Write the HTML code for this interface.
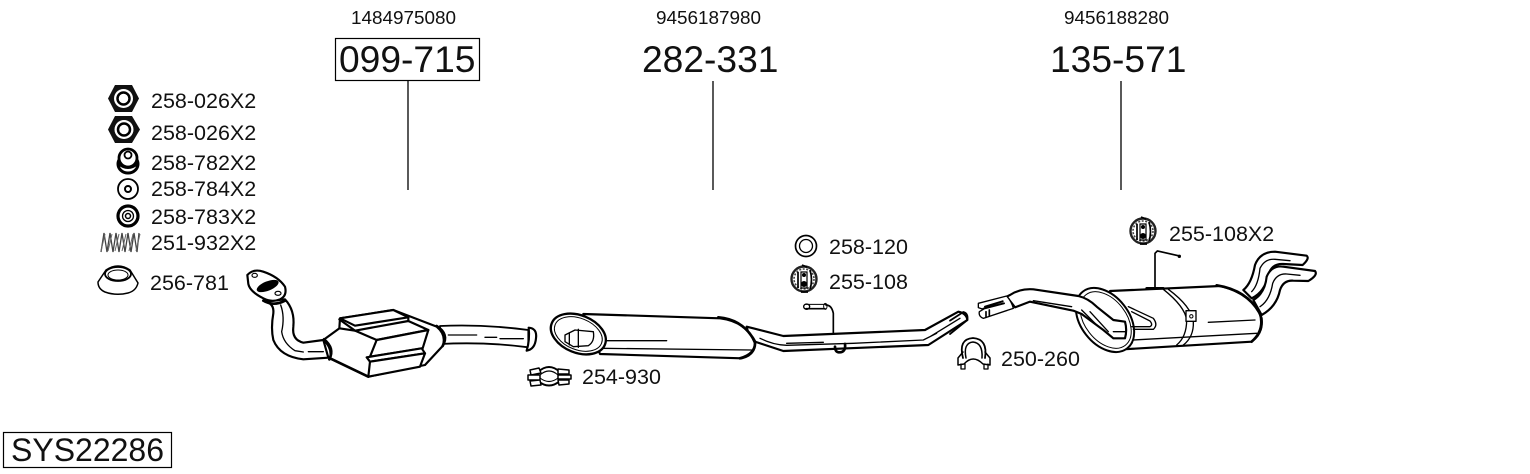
<!DOCTYPE html>
<html><head><meta charset="utf-8"><style>
html,body{margin:0;padding:0;background:#fff;width:1530px;height:474px;overflow:hidden}
svg{display:block}
text{font-family:"Liberation Sans",sans-serif;fill:#111}
.l{font-size:21.5px}.t{font-size:18.9px}.b{font-size:37.2px}
.d{filter:blur(.3px)}
.g{fill:none;stroke:#000;stroke-width:6.5;stroke-linejoin:round;stroke-linecap:round}
.w{fill:#fff}.k{fill:#000;stroke:none}.n{stroke-width:4}
</style></head><body>
<svg width="1530" height="474" viewBox="0 0 1530 474" xmlns="http://www.w3.org/2000/svg">
<rect x="335.500" y="38.500" width="144" height="42" fill="none" stroke="#000" stroke-width="1.200"/>
<rect x="3.500" y="432.500" width="168" height="35" fill="none" stroke="#000" stroke-width="1.200"/>
<path d="M408 81V190M713 81V190M1121 81V190" stroke="#000" stroke-width="1.300" fill="none"/>
<text class="t" x="351" y="24">1484975080</text>
<text class="t" x="656" y="24">9456187980</text>
<text class="t" x="1064" y="24">9456188280</text>
<text class="b" x="339" y="72">099-715</text>
<text class="b" x="642" y="72">282-331</text>
<text class="b" x="1050" y="72">135-571</text>
<text x="11" y="461" style="font-size:32px">SYS22286</text>
<text class="l" x="151" y="108">258-026X2</text>
<text class="l" x="151" y="140">258-026X2</text>
<text class="l" x="151" y="170">258-782X2</text>
<text class="l" x="151" y="196">258-784X2</text>
<text class="l" x="151" y="224">258-783X2</text>
<text class="l" x="151" y="250">251-932X2</text>
<text class="l" x="150" y="290">256-781</text>
<text class="l" x="829" y="254">258-120</text>
<text class="l" x="829" y="289">255-108</text>
<text class="l" x="582" y="384">254-930</text>
<text class="l" x="1001" y="366">250-260</text>
<text class="l" x="1169" y="241">255-108X2</text>
<g class="d">
<!-- small parts -->
<path d="M115 85H132L139 98.500L132 112H115L108 98.500Z" fill="#111"/>
<circle cx="123.500" cy="98.500" r="9.500" fill="#fff"/><circle cx="123.500" cy="98.500" r="6" fill="none" stroke="#000" stroke-width="2.500"/>
<path d="M115 116H132L140 129.500L132 143H115L108 129.500Z" fill="#111"/>
<circle cx="124" cy="129.500" r="9.500" fill="#fff"/><circle cx="124" cy="129.500" r="6" fill="none" stroke="#000" stroke-width="2.500"/>
<ellipse cx="128" cy="164" rx="10" ry="9" fill="none" stroke="#000" stroke-width="3"/>
<circle cx="128" cy="158" r="9" fill="#fff" stroke="#000" stroke-width="2.800"/><circle cx="128" cy="155" r="3.500" fill="none" stroke="#000" stroke-width="1.800"/>
<path d="M118 164Q128 172 138 164" fill="none" stroke="#000" stroke-width="2"/>
<circle cx="128" cy="189" r="10" fill="none" stroke="#000" stroke-width="1.800"/><circle cx="128" cy="189" r="3" fill="none" stroke="#000" stroke-width="2"/>
<circle cx="128" cy="216" r="10" fill="none" stroke="#000" stroke-width="3.200"/><circle cx="128" cy="216" r="5.500" fill="none" stroke="#000" stroke-width="1.300"/><circle cx="128" cy="216" r="2.500" fill="none" stroke="#000" stroke-width="1.500"/>
<path d="M101 252L104 233L107 252L110 233L113 252L116 233L119 252L122 233L125 252L128 233L131 252L134 233L137 252L139 233" fill="none" stroke="#444" stroke-width="1.300"/>
<path d="M101 251L105 234M108 251L112 234M115 251L119 234M122 251L126 234M129 251L133 234M136 251L140 234" fill="none" stroke="#666" stroke-width="1"/>
<path d="M98 282L106 270Q118 262 130 270L138 283Q136 291 128 293Q116 296 105 292Q98 289 98 282Z" fill="none" stroke="#000" stroke-width="1.500"/>
<ellipse cx="118" cy="274" rx="13" ry="7" fill="none" stroke="#000" stroke-width="1.800"/><ellipse cx="118" cy="275" rx="10" ry="5" fill="none" stroke="#000" stroke-width="1"/>
<circle cx="806" cy="246" r="10.500" fill="none" stroke="#000" stroke-width="1.700"/><circle cx="806" cy="246" r="6.500" fill="none" stroke="#000" stroke-width="1.300"/>
<!-- hanger 255-108 -->
<g id="h"><ellipse cx="804" cy="279" rx="12.500" ry="12.500" fill="none" stroke="#222" stroke-width="2.400"/>
<ellipse cx="804" cy="279" rx="10" ry="10" fill="none" stroke="#444" stroke-width="1.600" stroke-dasharray="2 1.500"/>
<path d="M798 272V288M810 270Q813 280 810 289M802 265L807 267M801 292H808" fill="none" stroke="#000" stroke-width="1.700"/>
<path d="M801 272H807V288H801Z" fill="#fff" stroke="#000" stroke-width="1.200"/>
<circle cx="804" cy="275" r="2" fill="#000"/><circle cx="804" cy="284" r="3" fill="#000"/></g>
<use href="#h" x="339" y="-48"/>
<!-- clamp 254-930 -->
<g fill="none" stroke="#000" stroke-width="1.500" stroke-linecap="round" stroke-linejoin="round">
<path d="M538 372Q549 362 560 372M538 381Q549 390 560 381" stroke-width="2"/>
<path d="M540 375Q549 367 558 375M540 378Q549 385 558 378" stroke-width="1.100"/>
<path d="M530 370L539 368L541 373L531 375ZM528 375H540V380H528ZM530 381L540 380L541 385L531 386Z" fill="#fff"/>
<path d="M558 369L569 370V374L558 374ZM558 375H571V379H558ZM558 380L569 380V384L559 385Z" fill="#fff"/>
</g>
<!-- clamp 250-260 -->
<g fill="none" stroke="#000" stroke-width="1.500" stroke-linecap="round" stroke-linejoin="round">
<path d="M963 358Q958 339 973 338Q988 339 985 358" stroke-width="1.800"/>
<path d="M966 358Q963 343 973 342Q983 343 982 358"/>
<path d="M963 352L958 358V365L964 364Q973 354 983 364L990 365V358L985 352"/>
<path d="M961 364V369H965V364M984 364V369H988V364" stroke-width="1.300"/>
</g>
<!-- catalytic converter -->
<g transform="translate(240,260) scale(.33333)" class="g">
<path class="w" d="M600 198Q730 192 865 210L865 262Q740 245 600 252Z" style="stroke-width:5.500"/>
<path class="n" d="M625 225H710M735 232H770M780 236H850"/>
<path class="w" d="M866 203Q892 205 888 235Q885 268 860 272Q870 240 866 203Z"/>
<path class="w" d="M75 125Q103 130 100 160Q92 205 100 240Q120 290 190 298L265 293L250 240L190 248Q155 240 160 200Q165 150 135 118Z"/>
<path class="n" d="M122 135Q135 170 125 215Q130 250 165 272L190 276M205 275H250"/>
<path class="w" d="M250 240L298 205L300 175L460 150L590 200Q620 225 608 258L555 315L385 350L270 295Q278 265 250 240Z"/>
<path class="w" d="M300 175L460 150L505 172L345 197Z"/>
<path class="w" d="M345 212L505 183L565 210L410 240Z"/>
<path class="w" d="M410 240L565 210L548 265L390 290Z"/>
<path class="w" d="M380 292L545 265L555 280L390 305Z"/>
<path class="w" d="M390 305L555 280L540 320L385 350Z"/>
<path d="M298 178L345 212M505 172L505 183M298 205L345 212"/>
<path d="M385 350L270 295" stroke-width="8"/>
<path d="M590 198Q628 222 608 258" stroke-width="8"/>
<path d="M252 238Q285 265 268 298" stroke-width="8"/>
<path class="w" d="M22 45Q40 25 70 35Q115 50 135 80Q142 108 120 118Q95 128 70 115Q30 95 25 72Z"/>
<ellipse class="k" cx="83" cy="78" rx="35" ry="14" transform="rotate(-22 83 78)"/>
<ellipse cx="44" cy="46" rx="8" ry="6" stroke-width="3.500"/><ellipse cx="114" cy="100" rx="9" ry="6" stroke-width="3.500"/>
<path d="M70 122Q100 140 135 122" stroke-width="8"/>
</g>
<!-- middle muffler -->
<g transform="translate(520,230) scale(.33333)" class="g">
<path class="w" d="M680 290L790 318L1215 300L1315 245Q1340 250 1342 270L1225 345L790 363L690 330Z"/>
<path class="n" d="M800 340L910 337M720 325Q760 345 800 346L1000 340L1210 330L1250 310M1230 320L1320 265"/>
<path d="M945 350Q945 368 960 367Q978 365 975 342" stroke-width="8"/>
<path d="M940 310V250Q935 225 918 225M858 236H915" stroke-width="5"/><ellipse cx="860" cy="230" rx="9" ry="8" stroke-width="4"/>
<path d="M855 223H920M860 237H915" stroke-width="3"/><ellipse cx="916" cy="229" rx="5" ry="9" stroke-width="3"/>
<path class="w" d="M190 252L600 265Q680 275 705 340Q705 375 665 385L240 372Z"/>
<path d="M595 262Q670 268 705 335Q708 372 660 385" stroke-width="8"/>
<path d="M245 355L695 360M260 332H440" class="n"/>
<ellipse class="w" cx="175" cy="312" rx="86" ry="56" transform="rotate(22 175 312)" style="stroke-width:7"/>
<ellipse cx="175" cy="312" rx="75" ry="47" transform="rotate(22 175 312)" stroke-width="3"/>
<path class="w" stroke-width="4" d="M135 315L165 300L220 305Q225 335 205 347L160 350L135 335Z"/>
<path class="n" d="M175 298V352M148 310V345"/>
</g>
<!-- rear muffler -->
<g transform="translate(950,210) scale(.33333)" class="g">
<path d="M0 332L40 306Q55 310 52 330L0 372" stroke-width="5.500"/>
<path class="w" d="M880 240Q905 220 915 165Q930 125 975 125L1070 137Q1080 145 1058 165L1000 162Q965 160 955 195Q945 245 905 265Z"/>
<path class="n" d="M905 245Q925 225 930 175Q945 145 975 148L1020 152"/>
<path class="w" d="M910 270Q945 250 950 200Q965 165 1000 170L1095 183Q1105 195 1075 213L1030 212Q1000 210 990 240Q980 290 935 315Z"/>
<path class="n" d="M930 290Q960 270 968 220Q980 190 1010 192L1050 196"/>
<path class="w" d="M480 243L810 228Q905 250 935 325Q940 370 905 395L520 418Z"/>
<path d="M800 226Q890 240 930 310Q945 360 905 395" stroke-width="8"/>
<path class="n" d="M775 337L915 330M550 390L920 370"/>
<path d="M640 238Q705 290 710 330Q710 380 680 405M655 238Q725 290 730 335Q732 380 700 405" stroke-width="4"/>
<rect x="708" y="302" width="30" height="32" class="w" stroke-width="4"/><circle cx="724" cy="319" r="5" stroke-width="3"/>
<path d="M615 235V130L622 123L688 138" stroke-width="5"/><path d="M590 235H640" stroke-width="8"/><circle class="k" cx="688" cy="139" r="5"/>
<ellipse class="w" cx="465" cy="330" rx="72" ry="108" transform="rotate(-38 465 330)" style="stroke-width:6"/>
<ellipse cx="467" cy="330" rx="62" ry="96" transform="rotate(-38 467 330)" stroke-width="3"/>
<path d="M535 290L610 325Q625 345 610 358L550 358M545 305L600 333Q610 345 600 350L545 350" stroke-width="4"/>
<path class="w" d="M180 255Q210 235 250 238L385 258Q415 265 440 290L490 330L525 335Q532 360 525 385L490 385L460 360L395 312L370 302L240 275L195 292L170 260Z"/>
<path class="n" d="M250 272L365 290M395 300L440 345M420 305L475 365M490 365H525"/>
<path class="w" d="M85 280L170 258Q185 275 190 295L100 325Q85 320 88 305L100 298L85 293Z" stroke-width="4"/>
<path d="M100 296L162 280M105 290L158 274" stroke-width="6"/><path d="M108 305V322M118 300V318" stroke-width="5"/>
</g>
</g>
</svg>
</body></html>
